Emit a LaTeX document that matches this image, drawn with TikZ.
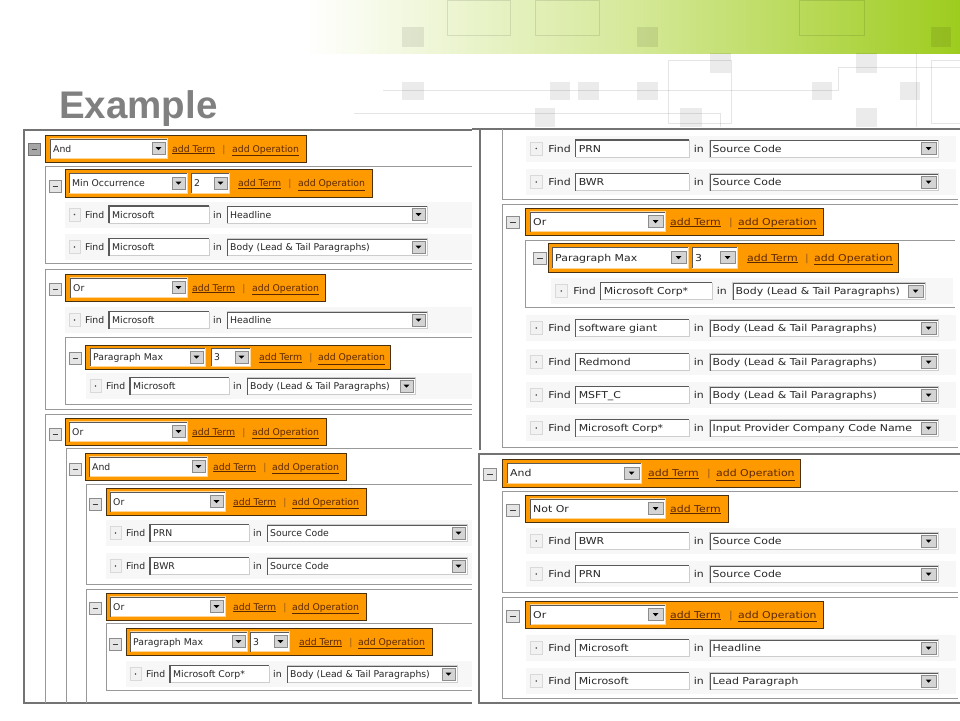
\documentclass[tikz,border=0pt]{standalone}
\usepackage{fontspec}
\newfontfamily\uifont{DejaVu Sans}
\newfontfamily\uiwide[FakeStretch=1.15]{DejaVu Sans}
\newfontfamily\titlefont{Liberation Sans}

\definecolor{barorange}{RGB}{255,153,0}
\definecolor{barrim}{RGB}{74,48,12}
\definecolor{barglow}{RGB}{255,214,150}
\definecolor{fieldrim}{RGB}{205,205,205}
\definecolor{linkbrown}{RGB}{92,40,0}
\definecolor{sepbrown}{RGB}{150,90,30}
\definecolor{hdrmid}{RGB}{212,232,150}
\definecolor{hdrgreen}{RGB}{158,204,30}
\definecolor{titlegray}{RGB}{128,128,128}

\newcounter{uinode}
\def\kx{1}
\def\ui{\uifont\fontsize{9.3}{11}\selectfont}

\tikzset{
  uitext/.style={anchor=west, inner sep=0pt, text height=8pt, text depth=1pt, font=\ui, text=black!85},
  linktext/.style={uitext, text=linkbrown},
  septext/.style={uitext, anchor=center, text=sepbrown},
  panelline/.style={draw=black!55, line width=1.3pt},
  boxline/.style={draw=black!40, line width=0.9pt},
  btnbox/.style={fill=black!10, draw=black!45, line width=0.6pt},
  btndark/.style={fill=black!35, draw=black!55, line width=0.6pt},
  rowstrip/.style={fill=black!3},
  deco/.style={fill=black, opacity=0.08},
  decoline/.style={draw=black, opacity=0.1, line width=0.8pt}
}

% text node with its own name
\newcommand{\uinode}[4][uitext]{\stepcounter{uinode}%
  \node[#1] (u\theuinode) at ({#2},{#3}) {#4};}

% small square buttons
\newcommand{\minusbtn}[3][btnbox]{%
  \draw[#1] ({#2},{#3-6}) rectangle ({#2+12*\kx},{#3+6});
  \draw[black!75, line width=0.8pt] ({#2+3.5*\kx},{#3}) -- ({#2+8.5*\kx},{#3});}
\newcommand{\dotbtn}[2]{%
  \draw[fill=black!5, draw=black!15] ({#1},{#2-6.5}) rectangle ({#1+11*\kx},{#2+6.5});
  \fill[black!70] ({#1+5.5*\kx},{#2}) circle (0.8pt);}

% orange operation bar: x1, x2, top, bottom
\newcommand{\opbar}[4]{%
  \draw[fill=barorange, draw=barrim, line width=0.9pt] ({#1},{#3}) rectangle ({#2},{#4});}

% select box: [rim], x1, x2, y, text, half height
\newcommand{\dropbox}[6][barglow]{%
  \draw[fill=white, draw=#1, line width=0.8pt] ({#2},{#4-#6}) rectangle ({#3},{#4+#6});
  \draw[black!65, line width=1.2pt] ({#2+0.6},{#4+#6}) -- ({#2+0.6},{#4-#6+0.6}) -- ({#3},{#4-#6+0.6});
  \draw[fill=black!17, draw=black!45, line width=0.5pt] ({#3-2-13*\kx},{#4-6}) rectangle ({#3-2},{#4+6});
  \fill[black] ({#3-2-6.5*\kx-2.8},{#4-1.3}) -- ({#3-2-6.5*\kx+2.8},{#4-1.3}) -- ({#3-2-6.5*\kx},{#4+1.7}) -- cycle;
  \uinode{#2+3}{#4}{#5}}

% text input: x1, x2, y, text
\newcommand{\textin}[4]{%
  \fill[white] ({#1},{#3-8.5}) rectangle ({#2},{#3+8.5});
  \draw[fieldrim] ({#1},{#3+8.5}) -- ({#2},{#3+8.5}) -- ({#2},{#3-8.5});
  \draw[black!65, line width=1.2pt] ({#1},{#3+8.5}) -- ({#1},{#3-8.5}) -- ({#2},{#3-8.5});
  \uinode{#1+3}{#3}{#4}}

% links: add Term x, bar x, add Operation x, y
\newcommand{\linkpair}[4]{%
  \uinode[linktext]{#1}{#4}{\underline{add Term}}
  \uinode[septext]{#2}{#4}{|}
  \uinode[linktext]{#3}{#4}{\underline{add Operation}}}

% term row: dot x, y, input right, term, field right, field, strip right
\newcommand{\findrow}[7]{%
  \fill[rowstrip] ({#1-4},{#2-13}) rectangle ({#7},{#2+13});
  \dotbtn{#1}{#2}
  \uinode{#1+16*\kx}{#2}{Find}
  \textin{#1+40*\kx}{#3}{#2}{#4}
  \uinode{#3+4*\kx}{#2}{in}
  \dropbox[fieldrim]{#3+18*\kx}{#5}{#2}{#6}{8.5}}

% nesting frames: left, top, bottom, right
\newcommand{\nestframe}[4]{\draw[boxline] (#4,#2) -- (#1,#2) -- (#1,#3) -- (#4,#3);}
\newcommand{\openframe}[4]{\draw[boxline] (#4,#2) -- (#1,#2) -- (#1,#3);}

\begin{document}
\begin{tikzpicture}[x=1pt, y=-1pt]
\useasboundingbox (0,0) rectangle (960,720);
\fill[white] (0,0) rectangle (960,720);

% Header band
\shade[left color=white, right color=hdrmid] (305,0) rectangle (640,53);
\shade[left color=hdrmid, right color=hdrgreen] (639.5,0) rectangle (960,53);
\foreach \a/\b/\c/\d in {402/27/424/47, 637/27/658/47, 931/27/951/47, 710/53/731/73, 856/53/877/73,
    402/82/424/100, 550/82/570/100, 578/82/599/100, 637/82/658/100, 812/82/832/100, 900/82/920/100,
    535/108/555/127, 680/108/702/127, 856/108/877/127}
  \fill[deco] (\a,\b) rectangle (\c,\d);
\foreach \a/\b/\c/\d in {447/0/510/35, 535/0/599/35, 799/0/864/35, 668/60/731/123, 931/60/962/123}
  \draw[decoline] (\a,\b) rectangle (\c,\d);
\draw[decoline] (383,90) -- (838,90) -- (838,67) -- (960,67);
\draw[decoline] (354,113) -- (720,113) -- (720,127);
\draw[decoline] (916,53) -- (916,127);

% Title
\node[anchor=base west, inner sep=0pt, font=\titlefont\bfseries\fontsize{38.5}{38}\selectfont, text=titlegray] (title) at (59,118) {Example};

% ---------- Left panel ----------
\draw[panelline] (472,130) -- (24,130) -- (24,703) -- (472,703);

% And
\minusbtn[btndark]{28}{149}
\opbar{45}{306}{135}{162}
\dropbox{50}{167}{148.5}{And}{10}
\linkpair{172}{224}{232}{148.5}

% Min Occurrence
\nestframe{45}{166}{263}{472}
\minusbtn{49}{186}
\opbar{65}{372}{169}{197}
\dropbox{69}{187}{183}{Min Occurrence}{10}
\dropbox{191}{229}{183}{2}{10}
\linkpair{238}{290}{298}{183}
\findrow{69}{214.5}{209}{Microsoft}{427}{Headline}{472}
\findrow{69}{247}{209}{Microsoft}{427}{Body (Lead \& Tail Paragraphs)}{472}

% Or
\nestframe{45}{269}{409}{472}
\minusbtn{49}{289}
\opbar{65}{325}{274}{301}
\dropbox{70}{187}{287.5}{Or}{10}
\linkpair{192}{244}{252}{287.5}
\findrow{69}{320}{209}{Microsoft}{427}{Headline}{472}
\nestframe{65}{337}{404}{472}
\minusbtn{69}{358}
\opbar{85}{390}{345}{369}
\dropbox{90}{205}{357}{Paragraph Max}{9}
\dropbox{211}{250}{357}{3}{9}
\linkpair{259}{311}{318}{357}
\findrow{90}{386}{229}{Microsoft}{415}{Body (Lead \& Tail Paragraphs)}{472}

% Or / And / Or
\openframe{45}{414}{703}{472}
\minusbtn{49}{434}
\opbar{65}{326}{418}{445}
\dropbox{69}{187}{431.5}{Or}{10}
\linkpair{192}{244}{252}{431.5}
\openframe{66}{448}{703}{472}
\minusbtn{69}{469}
\opbar{85}{346}{453}{480}
\dropbox{89}{207}{466.5}{And}{10}
\linkpair{213}{265}{272}{466.5}
\nestframe{86}{484}{584}{472}
\minusbtn{89}{504}
\opbar{106}{366}{488}{515}
\dropbox{110}{225}{501.5}{Or}{10}
\linkpair{233}{285}{292}{501.5}
\findrow{110}{533}{249}{PRN}{467}{Source Code}{472}
\findrow{110}{566}{249}{BWR}{467}{Source Code}{472}
\openframe{86}{589}{703}{472}
\minusbtn{89}{608}
\opbar{106}{366}{593}{620}
\dropbox{110}{225}{606.5}{Or}{10}
\linkpair{233}{285}{292}{606.5}
\nestframe{106}{623}{690}{472}
\minusbtn{109}{644}
\opbar{126}{432}{628}{655}
\dropbox{130}{247}{641.5}{Paragraph Max}{10}
\dropbox{250}{289}{641.5}{3}{10}
\linkpair{299}{351}{358}{641.5}
\findrow{130}{674}{269}{Microsoft Corp*}{457}{Body (Lead \& Tail Paragraphs)}{472}

% ---------- Right panel ----------
\def\kx{1.14}
\def\ui{\uiwide\fontsize{9.5}{11}\selectfont}
\draw[panelline] (472,129) -- (960,129);
\draw[panelline] (480,129) -- (480,450);

% PRN / BWR
\draw[boxline] (502,129) -- (502,199) -- (958,199);
\findrow{530}{148.5}{689}{PRN}{938}{Source Code}{956}
\findrow{530}{182}{689}{BWR}{938}{Source Code}{956}

% Or
\nestframe{502}{204}{447}{958}
\minusbtn{506}{222}
\opbar{525}{823}{208}{235}
\dropbox{530}{665}{221.5}{Or}{10}
\linkpair{670}{731}{738}{221.5}
\nestframe{525}{240}{307}{955}
\minusbtn{533}{258}
\opbar{548}{898}{243}{272}
\dropbox{552}{688}{257.5}{Paragraph Max}{10.5}
\dropbox{692}{737}{257.5}{3}{10.5}
\linkpair{747}{807}{814}{257.5}
\findrow{555}{291}{712}{Microsoft Corp*}{925}{Body (Lead \& Tail Paragraphs)}{953}
\findrow{530}{328}{689}{software giant}{938}{Body (Lead \& Tail Paragraphs)}{956}
\findrow{530}{362}{689}{Redmond}{938}{Body (Lead \& Tail Paragraphs)}{956}
\findrow{530}{395}{689}{MSFT\_C}{938}{Body (Lead \& Tail Paragraphs)}{956}
\findrow{530}{428}{689}{Microsoft Corp*}{938}{Input Provider Company Code Name}{956}

% And
\draw[panelline] (960,454) -- (479,454) -- (479,703) -- (960,703);
\minusbtn{483}{474}
\opbar{502}{800}{459}{487}
\dropbox{507}{641}{473}{And}{10}
\linkpair{648}{709}{716}{473}

% Not Or
\nestframe{502}{491}{592}{958}
\minusbtn{506}{510}
\opbar{525}{728}{495}{522}
\dropbox{530}{665}{508.5}{Not Or}{10}
\uinode[linktext]{670}{508.5}{\underline{add Term}}
\findrow{530}{541}{689}{BWR}{938}{Source Code}{956}
\findrow{530}{574}{689}{PRN}{938}{Source Code}{956}

% Or
\nestframe{502}{597}{698}{958}
\minusbtn{506}{616}
\opbar{525}{823}{601}{628}
\dropbox{530}{665}{614.5}{Or}{10}
\linkpair{670}{731}{738}{614.5}
\findrow{530}{648}{689}{Microsoft}{938}{Headline}{956}
\findrow{530}{681}{689}{Microsoft}{938}{Lead Paragraph}{956}
\end{tikzpicture}
\end{document}
